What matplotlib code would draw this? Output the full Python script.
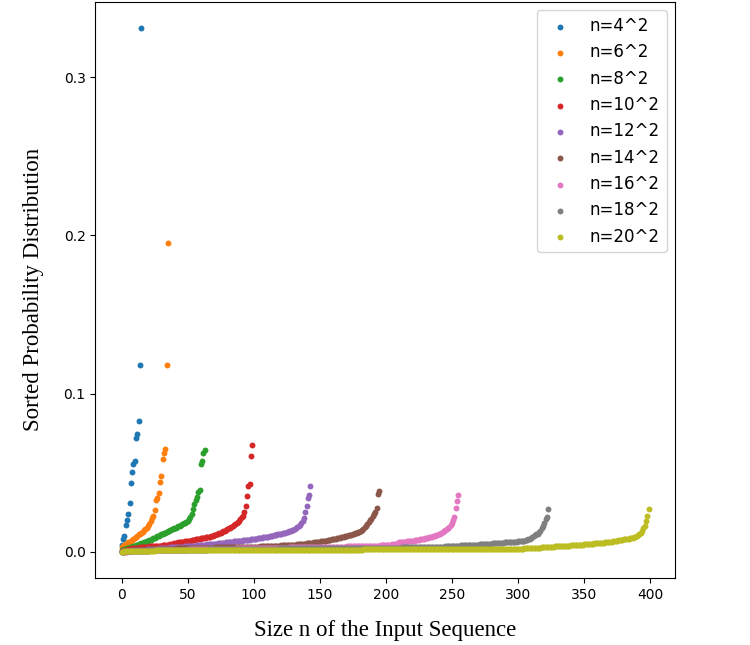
import numpy as np
import matplotlib
matplotlib.use('Agg')
import matplotlib.pyplot as plt

# sorted probabilities, in units of 1e-4
p_16 = [46, 82, 99, 170, 204, 240, 307, 435, 502, 553, 573, 717, 744, 830, 1180, 3310]

p_36 = [30, 38, 44, 50, 55, 60, 64, 70, 76, 82,
        88, 95, 103, 110, 116, 122, 128, 136, 145, 152,
        162, 175, 197, 212, 229, 265, 330, 340, 372, 443,
        481, 586, 628, 649, 1180, 1950]

p_64 = [10, 14, 18, 21, 24, 27, 29, 31, 33, 36,
        39, 42, 45, 48, 51, 54, 57, 60, 63, 66,
        70, 74, 78, 82, 86, 90, 94, 98, 102, 106,
        110, 114, 118, 122, 126, 130, 134, 138, 142, 146,
        150, 154, 158, 162, 166, 170, 175, 180, 185, 191,
        197, 205, 219, 239, 271, 303, 330, 345, 376, 393,
        555, 575, 628, 645]

p_100 = [5, 8, 10, 12, 14, 16, 18, 20, 22, 23,
         24, 25, 26, 27, 28, 29, 30, 31, 32, 33,
         34, 35, 35, 36, 36, 37, 38, 38, 39, 39,
         40, 41, 42, 43, 44, 45, 46, 48, 50, 52,
         54, 56, 58, 60, 61, 62, 63, 65, 66, 67,
         69, 70, 72, 74, 76, 78, 79, 80, 82, 84,
         86, 87, 89, 90, 92, 93, 95, 97, 99, 102,
         106, 109, 112, 114, 117, 121, 125, 130, 134, 139,
         144, 149, 154, 160, 166, 170, 175, 181, 187, 195,
         208, 218, 229, 250, 288, 351, 414, 429, 603, 676]

p_144 = [2, 3, 4, 5, 5, 6, 7, 8, 8, 9,
         10, 10, 11, 12, 12, 13, 14, 14, 15, 16,
         16, 17, 18, 18, 19, 20, 20, 21, 22, 22,
         23, 24, 24, 25, 26, 26, 27, 28, 28, 29,
         30, 30, 31, 32, 32, 33, 34, 34, 35, 36,
         36, 37, 38, 38, 39, 40, 40, 41, 42, 42,
         43, 44, 44, 45, 46, 47, 47, 48, 49, 50,
         51, 52, 53, 54, 55, 56, 57, 58, 59, 60,
         61, 62, 63, 64, 65, 66, 67, 68, 69, 70,
         71, 72, 73, 74, 75, 76, 77, 78, 79, 80,
         81, 82, 83, 85, 86, 88, 89, 91, 92, 94,
         95, 97, 98, 100, 102, 104, 106, 108, 110, 112,
         114, 116, 118, 120, 122, 125, 128, 131, 134, 137,
         141, 145, 150, 156, 163, 170, 180, 195, 215, 250,
         292, 338, 359, 418]

p_196 = [2, 3, 4, 5, 6, 7, 8, 8, 9, 10,
         10, 11, 11, 12, 12, 13, 13, 14, 14, 15,
         15, 15, 16, 16, 16, 17, 17, 17, 18, 18,
         18, 19, 19, 19, 20, 20, 20, 20, 21, 21,
         21, 21, 22, 22, 22, 22, 23, 23, 23, 23,
         23, 24, 24, 24, 24, 24, 25, 25, 25, 25,
         25, 26, 26, 26, 26, 26, 27, 27, 27, 27,
         27, 28, 28, 28, 28, 28, 29, 29, 29, 29,
         29, 30, 30, 30, 30, 30, 31, 31, 31, 31,
         31, 32, 32, 32, 32, 32, 33, 33, 33, 33,
         33, 34, 34, 34, 34, 35, 35, 35, 35, 36,
         36, 36, 37, 37, 37, 38, 38, 39, 39, 40,
         40, 41, 41, 42, 42, 43, 43, 44, 44, 45,
         45, 46, 46, 47, 48, 49, 50, 51, 52, 53,
         54, 55, 56, 57, 58, 59, 60, 61, 62, 64,
         65, 66, 68, 69, 71, 72, 74, 75, 77, 79,
         80, 82, 84, 86, 88, 90, 92, 94, 96, 98,
         100, 102, 104, 106, 109, 112, 115, 118, 121, 124,
         128, 133, 139, 146, 156, 165, 175, 187, 200, 210,
         225, 239, 255, 275, 366, 386]

p_256 = [1, 1, 2, 2, 2, 3, 3, 4, 4, 4,
         5, 5, 5, 6, 6, 7, 7, 7, 8, 8,
         8, 8, 9, 9, 10, 10, 10, 10, 11, 11,
         11, 11, 11, 12, 12, 12, 13, 13, 13, 13,
         13, 14, 14, 14, 14, 14, 14, 15, 15, 15,
         15, 16, 16, 16, 16, 16, 16, 16, 16, 17,
         17, 17, 17, 18, 18, 18, 18, 19, 19, 19,
         19, 19, 19, 19, 19, 20, 20, 20, 20, 20,
         20, 20, 21, 21, 21, 21, 21, 22, 22, 22,
         22, 22, 22, 22, 23, 23, 23, 23, 23, 23,
         23, 23, 24, 24, 24, 24, 24, 25, 25, 25,
         25, 25, 25, 25, 26, 26, 26, 26, 26, 26,
         26, 26, 27, 27, 27, 27, 27, 28, 28, 28,
         28, 28, 28, 28, 29, 29, 29, 29, 29, 29,
         29, 29, 30, 30, 30, 30, 30, 31, 31, 31,
         31, 31, 31, 31, 32, 32, 32, 32, 32, 32,
         32, 32, 33, 33, 33, 33, 34, 34, 34, 34,
         34, 35, 35, 35, 35, 35, 35, 36, 36, 36,
         36, 36, 37, 37, 37, 38, 38, 38, 38, 39,
         39, 39, 39, 40, 40, 40, 41, 41, 41, 42,
         42, 43, 44, 45, 46, 47, 48, 50, 52, 55,
         60, 61, 62, 63, 64, 65, 66, 67, 68, 70,
         71, 72, 74, 75, 76, 78, 79, 80, 82, 84,
         86, 88, 90, 92, 94, 96, 99, 102, 105, 108,
         111, 115, 120, 125, 130, 136, 142, 149, 158, 170,
         185, 200, 219, 275, 323, 361]

p_324 = [1, 2, 2, 3, 3, 4, 4, 5, 5, 5,
         6, 6, 6, 7, 7, 7, 8, 8, 8, 8,
         9, 9, 9, 9, 10, 10, 10, 10, 10, 11,
         11, 11, 11, 11, 11, 12, 12, 12, 12, 12,
         12, 12, 13, 13, 13, 13, 13, 13, 13, 14,
         14, 14, 14, 14, 14, 14, 14, 15, 15, 15,
         15, 15, 15, 15, 15, 15, 16, 16, 16, 16,
         16, 16, 16, 16, 16, 17, 17, 17, 17, 17,
         17, 17, 17, 17, 18, 18, 18, 18, 18, 18,
         18, 18, 18, 19, 19, 19, 19, 19, 19, 19,
         19, 19, 20, 20, 20, 20, 20, 20, 20, 20,
         20, 21, 21, 21, 21, 21, 21, 21, 21, 21,
         22, 22, 22, 22, 22, 22, 22, 22, 22, 23,
         23, 23, 23, 23, 23, 23, 23, 23, 23, 23,
         23, 24, 24, 24, 24, 24, 24, 24, 24, 24,
         24, 24, 24, 25, 25, 25, 25, 25, 25, 25,
         25, 25, 25, 25, 25, 25, 25, 26, 26, 26,
         26, 26, 26, 26, 26, 26, 26, 26, 26, 26,
         26, 26, 26, 26, 27, 27, 27, 27, 27, 27,
         27, 27, 27, 27, 27, 27, 27, 27, 27, 27,
         27, 27, 27, 27, 27, 27, 27, 27, 27, 27,
         27, 27, 28, 28, 28, 28, 28, 29, 29, 29,
         29, 29, 29, 29, 30, 30, 30, 30, 30, 30,
         30, 30, 30, 30, 31, 31, 31, 31, 32, 32,
         32, 33, 33, 34, 34, 35, 35, 36, 36, 37,
         37, 38, 38, 39, 39, 40, 40, 41, 41, 42,
         42, 43, 43, 44, 44, 45, 45, 45, 46, 46,
         46, 47, 47, 48, 48, 49, 49, 50, 51, 52,
         53, 54, 55, 56, 57, 57, 58, 58, 59, 59,
         60, 60, 61, 61, 62, 62, 63, 63, 64, 65,
         66, 67, 68, 69, 70, 72, 74, 77, 80, 84,
         88, 93, 98, 104, 110, 116, 124, 135, 150, 166,
         183, 205, 219, 269]

p_400 = [1, 2, 3, 3, 4, 4, 5, 5, 5, 6,
         6, 6, 6, 7, 7, 7, 7, 7, 8, 8,
         8, 8, 8, 8, 8, 8, 9, 9, 9, 9,
         9, 9, 9, 9, 9, 9, 9, 9, 10, 10,
         10, 10, 10, 10, 10, 10, 10, 10, 10, 10,
         10, 10, 10, 10, 10, 11, 11, 11, 11, 11,
         11, 11, 11, 11, 11, 11, 11, 11, 11, 11,
         11, 11, 11, 11, 11, 11, 12, 12, 12, 12,
         12, 12, 12, 12, 12, 12, 12, 12, 12, 12,
         12, 12, 12, 12, 12, 12, 12, 12, 12, 12,
         12, 12, 12, 13, 13, 13, 13, 13, 13, 13,
         13, 13, 13, 13, 13, 13, 13, 13, 13, 13,
         13, 13, 13, 13, 13, 13, 13, 13, 13, 13,
         13, 13, 13, 14, 14, 14, 14, 14, 14, 14,
         14, 14, 14, 14, 14, 14, 14, 14, 14, 14,
         14, 14, 14, 14, 14, 14, 14, 15, 15, 15,
         15, 15, 15, 15, 15, 15, 15, 15, 15, 15,
         15, 15, 15, 15, 15, 15, 15, 15, 15, 15,
         15, 15, 15, 16, 16, 16, 16, 16, 16, 16,
         16, 16, 16, 16, 16, 16, 16, 16, 16, 16,
         16, 16, 16, 16, 16, 16, 16, 17, 17, 17,
         17, 17, 17, 17, 17, 17, 17, 17, 17, 17,
         17, 17, 17, 17, 17, 18, 18, 18, 18, 18,
         18, 18, 18, 18, 18, 18, 18, 18, 18, 18,
         18, 18, 18, 18, 19, 19, 19, 19, 19, 19,
         19, 19, 19, 19, 19, 19, 19, 19, 19, 19,
         19, 19, 19, 20, 20, 20, 20, 20, 20, 20,
         20, 20, 20, 20, 20, 20, 20, 20, 20, 20,
         20, 20, 20, 20, 20, 20, 20, 20, 20, 20,
         20, 20, 20, 20, 20, 20, 20, 20, 20, 20,
         20, 20, 21, 21, 21, 22, 22, 22, 23, 23,
         24, 24, 25, 25, 26, 26, 27, 27, 28, 28,
         29, 30, 31, 32, 32, 33, 33, 34, 35, 35,
         36, 36, 37, 37, 38, 38, 38, 39, 39, 40,
         41, 41, 42, 42, 43, 43, 44, 44, 45, 46,
         47, 48, 49, 50, 50, 51, 52, 53, 54, 55,
         55, 56, 57, 58, 59, 59, 60, 61, 62, 63,
         64, 65, 67, 68, 70, 71, 73, 74, 76, 78,
         79, 80, 81, 83, 84, 86, 88, 90, 93, 96,
         100, 105, 112, 120, 134, 150, 166, 197, 229, 269]

series = [p_16, p_36, p_64, p_100, p_144, p_196, p_256, p_324, p_400]
labels = ['n=4^2', 'n=6^2', 'n=8^2', 'n=10^2', 'n=12^2',
          'n=14^2', 'n=16^2', 'n=18^2', 'n=20^2']

fig = plt.figure(figsize=(7.5, 6.45), dpi=100)
ax = fig.add_axes([0.127, 0.104, 0.773, 0.893])

for vals, lab in zip(series, labels):
    p = np.array(vals) * 1e-4
    ax.scatter(np.arange(len(p)), p, s=18, linewidths=0, label=lab)

ax.set_xlabel('Size n of the Input Sequence', fontsize=16.5,
              family='Liberation Serif', labelpad=13)
ax.set_ylabel('Sorted Probability Distribution', fontsize=16.5,
              family='Liberation Serif', labelpad=14)
ax.set_xticks([0, 50, 100, 150, 200, 250, 300, 350, 400])
ax.set_yticks([0.0, 0.1, 0.2, 0.3])
ax.legend(loc='upper right', fontsize=12, markerscale=1.0)

plt.savefig('out.png')
